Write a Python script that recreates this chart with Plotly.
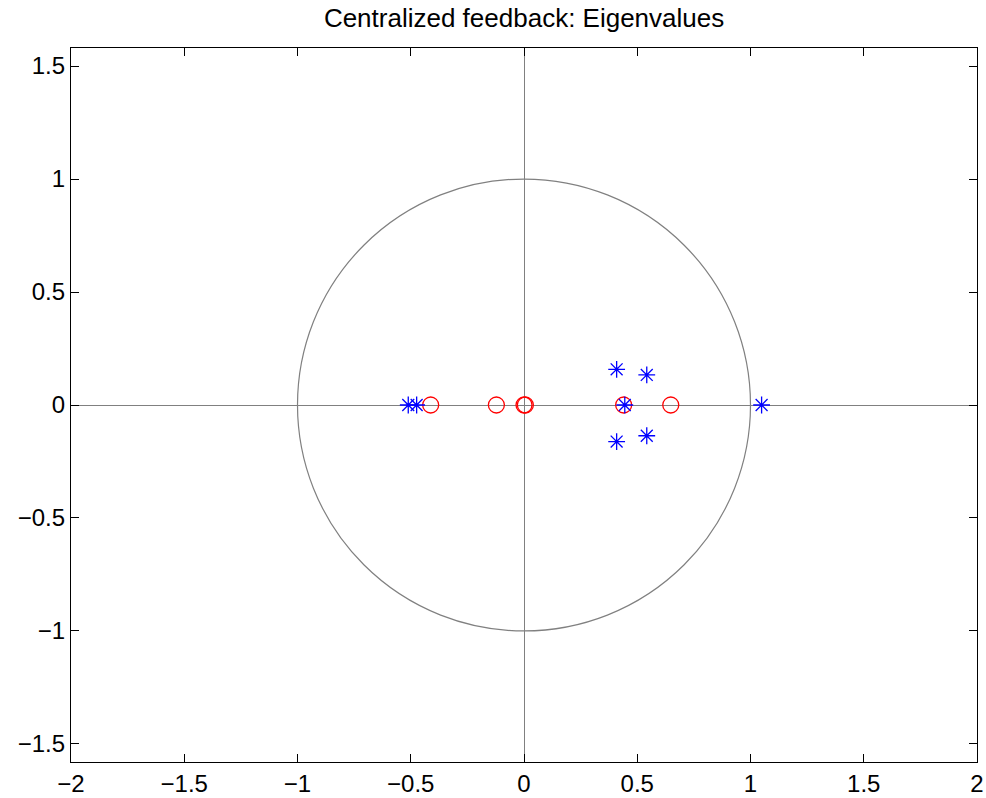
import plotly.graph_objects as go

# Closed-loop eigenvalues (real, imaginary parts)
eig_re = [-0.511, -0.474, 0.409, 0.409, 0.542, 0.542, 0.445, 1.049]
eig_im = [0.0, 0.0, 0.158, -0.162, 0.133, -0.136, 0.0, 0.0]

# Zeros (real, imaginary parts)
zero_re = [-0.412, -0.122, 0.0, 0.006, 0.44, 0.648]
zero_im = [0.0, 0.0, 0.0, 0.0, 0.0, 0.0]

x_ticks = [-2, -1.5, -1, -0.5, 0, 0.5, 1, 1.5, 2]
y_ticks = [-1.5, -1, -0.5, 0, 0.5, 1, 1.5]

FONT = "Liberation Sans, Arial, sans-serif"


def fmt(v):
    s = f"{v:g}"
    return s.replace("-", "\u2212")


fig = go.Figure()

fig.add_trace(go.Scatter(
    x=zero_re, y=zero_im, mode="markers",
    marker=dict(symbol="circle-open", size=16, color="#ff0000",
                line=dict(width=1.3, color="#ff0000")),
    showlegend=False, hoverinfo="x+y",
))
fig.add_trace(go.Scatter(
    x=eig_re, y=eig_im, mode="markers",
    marker=dict(symbol="asterisk-open", size=14, color="#0000ff",
                line=dict(width=1.3, color="#0000ff")),
    showlegend=False, hoverinfo="x+y",
))

# Unit circle
fig.add_shape(type="circle", xref="x", yref="y", x0=-1, y0=-1, x1=1, y1=1,
              line=dict(color="#808080", width=1.2), layer="below")

axis_common = dict(
    showgrid=False, zeroline=True, zerolinecolor="#808080", zerolinewidth=1.2,
    showline=True, linecolor="black", linewidth=1.3, mirror="ticks",
    ticks="inside", ticklen=8, tickcolor="black", tickwidth=1,
    tickfont=dict(family=FONT, size=24, color="black"),
    automargin=False,
)

fig.update_xaxes(range=[-2, 2], tickvals=x_ticks,
                 ticktext=[fmt(v) for v in x_ticks], **axis_common)
fig.update_yaxes(range=[-1.58, 1.58], tickvals=y_ticks,
                 ticktext=[fmt(v) for v in y_ticks], **axis_common)

fig.update_layout(
    width=986, height=798,
    margin=dict(l=71, r=9, t=48, b=36),
    plot_bgcolor="white", paper_bgcolor="white",
    title=dict(text="Centralized feedback: Eigenvalues", x=0.5315, xanchor="center",
               y=0.978, yanchor="middle",
               font=dict(family=FONT, size=26, color="black")),
)

fig.write_html("out.html")
